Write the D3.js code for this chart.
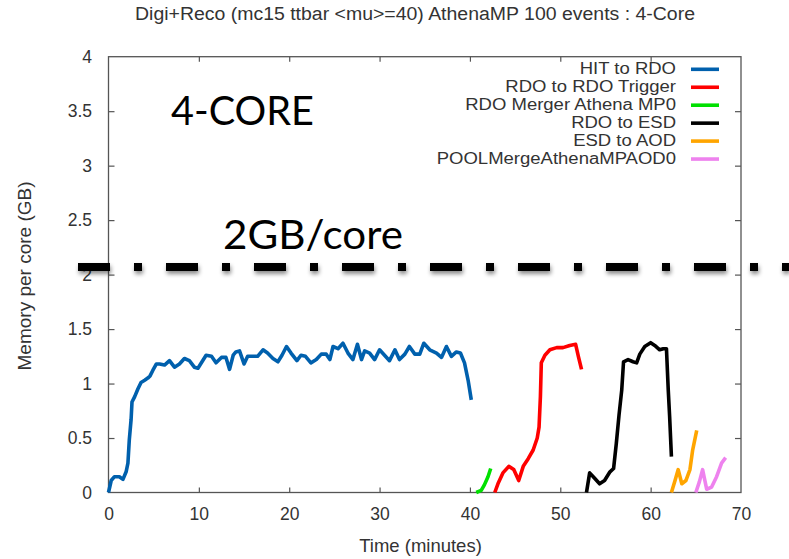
<!DOCTYPE html>
<html><head><meta charset="utf-8">
<script src="https://cdn.jsdelivr.net/npm/d3@7"></script>
<style>body{margin:0;background:#fff}svg{display:block}</style>
</head><body><svg id="c" width="789" height="559"></svg>
<script>
const chartTitle = "Digi+Reco (mc15 ttbar <mu>=40) AthenaMP 100 events : 4-Core";
const xLabel = "Time (minutes)";
const yLabel = "Memory per core (GB)";
const xTicks = [0,10,20,30,40,50,60,70];
const yTicks = [0,0.5,1,1.5,2,2.5,3,3.5,4];
const seriesNames = ["HIT to RDO","RDO to RDO Trigger","RDO Merger Athena MP0","RDO to ESD","ESD to AOD","POOLMergeAthenaMPAOD0"];
const seriesColors = ["#0060ad","#ff0000","#00e000","#000000","#ffa500","#ee82ee"];
const limitValue = 2.07;
const limitLabel = "2GB/core";
const coreLabel = "4-CORE";

const hitTime = [0,0.3,0.66,1.2,1.6,1.95,2.15,2.3,2.5,2.6,2.9,3.25,3.6,4.0,4.35,4.6,4.9,5.3,5.65,6.2,6.75,7.3,7.85,8.4,8.95,9.5,9.9,10.8,11.4,11.9,12.5,13.0,13.4,13.8,14.1,14.5,15.0,15.4,16.0,16.5,17.1,17.6,18.2,18.75,19.2,19.7,20.2,20.85,21.3,21.8,22.4,23.0,23.55,24.1,24.5,24.85,25.4,25.95,26.5,27.05,27.55,28.0,28.35,28.9,29.45,30.0,30.55,31.1,31.7,32.2,32.8,33.3,33.9,34.45,34.9,35.55,36.3,36.85,37.4,37.95,38.5,38.95,39.4,39.8,40.15];
const hitMem = [0,0.11,0.145,0.145,0.12,0.19,0.27,0.48,0.67,0.83,0.88,0.95,1.01,1.03,1.05,1.07,1.12,1.18,1.18,1.17,1.21,1.15,1.18,1.23,1.21,1.15,1.14,1.26,1.25,1.19,1.24,1.24,1.13,1.26,1.29,1.30,1.18,1.25,1.25,1.25,1.31,1.28,1.23,1.20,1.26,1.34,1.28,1.21,1.26,1.25,1.19,1.22,1.27,1.27,1.22,1.34,1.32,1.37,1.28,1.22,1.36,1.22,1.30,1.28,1.22,1.31,1.26,1.21,1.31,1.22,1.27,1.34,1.27,1.27,1.37,1.31,1.28,1.24,1.34,1.25,1.29,1.28,1.19,1.03,0.85];
const trigTime = [42.75,43.1,43.65,44.3,44.85,45.4,45.9,46.45,47.0,47.45,47.65,47.8,47.9,48.3,48.85,49.6,50.3,51.05,51.7,52.0,52.35];
const trigMem = [0,0.08,0.18,0.24,0.21,0.11,0.24,0.31,0.39,0.50,0.60,0.88,1.19,1.26,1.31,1.33,1.33,1.35,1.36,1.25,1.13];
const mergeTime = [40.7,41.25,41.6,42.0,42.3];
const mergeMem = [0,0.02,0.07,0.145,0.22];
const esdTime = [52.9,53.25,53.8,54.35,54.9,55.5,55.9,56.2,56.5,56.8,57.0,57.5,58.05,58.45,58.8,59.35,60.0,60.45,61.0,61.4,61.75,61.95,62.1,62.3];
const esdMem = [0,0.18,0.13,0.08,0.11,0.19,0.22,0.45,0.71,0.94,1.20,1.22,1.20,1.19,1.27,1.34,1.375,1.35,1.31,1.32,1.32,0.94,0.70,0.33];
const aodTime = [62.3,62.7,63.05,63.45,63.9,64.35,64.65,65.1];
const aodMem = [0,0.11,0.21,0.08,0.11,0.21,0.39,0.57];
const poolTime = [65.0,65.4,65.75,66.2,66.75,67.3,67.85,68.3];
const poolMem = [0,0.10,0.21,0.03,0.05,0.145,0.27,0.32];

const seriesTimes = [hitTime,trigTime,mergeTime,esdTime,aodTime,poolTime];
const seriesMems = [hitMem,trigMem,mergeMem,esdMem,aodMem,poolMem];

(function(){
const svg = d3.select("#c");
const L = 108.5, R = 741, T = 56.7, B = 492.5;
const x = d3.scaleLinear().domain([0,70]).range([L,R]);
const y = d3.scaleLinear().domain([0,4]).range([B,T]);
const frameCol = "#555", textCol = "#333";
const gFont = "'Liberation Sans', Arial, sans-serif";
const ly0 = y(limitValue);

const defs = svg.append("defs");
const f = defs.append("filter").attr("id","sh").attr("filterUnits","userSpaceOnUse")
  .attr("x",0).attr("y",ly0-25).attr("width",789).attr("height",50);
f.append("feDropShadow").attr("dx",1).attr("dy",3).attr("stdDeviation",2).attr("flood-color","#000").attr("flood-opacity",0.45);

const ax = svg.append("g").attr("font-family", gFont);
const gBottom = ax.append("g").attr("transform",`translate(0,${B})`)
  .call(d3.axisBottom(x).tickValues(xTicks).tickFormat(d3.format("d")).tickSizeInner(-5).tickSizeOuter(0).tickPadding(15));
const gLeft = ax.append("g").attr("transform",`translate(${L},0)`)
  .call(d3.axisLeft(y).tickValues(yTicks).tickFormat(d => String(d)).tickSizeInner(-6).tickSizeOuter(0).tickPadding(16.5));
const gTop = ax.append("g").attr("transform",`translate(0,${T})`)
  .call(d3.axisTop(x).tickValues(xTicks.slice(1,-1)).tickFormat("").tickSizeInner(-5).tickSizeOuter(0));
const gRight = ax.append("g").attr("transform",`translate(${R},0)`)
  .call(d3.axisRight(y).tickValues(yTicks.slice(1,-1)).tickFormat("").tickSizeInner(-6).tickSizeOuter(0));
[gBottom,gLeft,gTop,gRight].forEach(g => {
  g.select(".domain").remove();
  g.selectAll("line").attr("stroke",frameCol).attr("stroke-width",1.2);
  g.selectAll("text").attr("fill",textCol).attr("font-size","17.5px").attr("font-family",gFont);
});
gLeft.selectAll(".tick line").filter(d => d===0 || d===4).remove();
gBottom.selectAll(".tick line").filter(d => d===0 || d===70).remove();
svg.append("rect").attr("x",L).attr("y",T).attr("width",R-L).attr("height",B-T)
  .attr("fill","none").attr("stroke",frameCol).attr("stroke-width",1.3);

svg.append("text").attr("x",415).attr("y",20).attr("text-anchor","middle")
  .attr("font-family",gFont).attr("font-size","18px").attr("fill",textCol)
  .attr("textLength",560).attr("lengthAdjust","spacingAndGlyphs").text(chartTitle);
svg.append("text").attr("x",420.5).attr("y",552).attr("text-anchor","middle")
  .attr("font-family",gFont).attr("font-size","18.5px").attr("fill",textCol).text(xLabel);
svg.append("text").attr("transform","translate(30.5,276) rotate(-90)").attr("text-anchor","middle")
  .attr("font-family",gFont).attr("font-size","19px").attr("fill",textCol).text(yLabel);

const line = d3.line().x(d => x(d[0])).y(d => y(d[1]));
seriesNames.forEach((name,i) => {
  const pts = seriesTimes[i].map((t,j) => [t, seriesMems[i][j]]);
  svg.append("path").datum(pts).attr("d",line).attr("fill","none")
    .attr("stroke",seriesColors[i]).attr("stroke-width",3.6)
    .attr("stroke-linejoin","round").attr("stroke-linecap","butt");
});

const lg = svg.append("g").attr("font-family",gFont);
seriesNames.forEach((name,i) => {
  const ly = 69.3 + i*17.95;
  const t = lg.append("text").attr("x",676).attr("y",ly+5).attr("text-anchor","end")
    .attr("font-size","18.5px").attr("fill",textCol).text(name);
  const w = t.node().getComputedTextLength();
  t.attr("font-size","16px").attr("textLength",w).attr("lengthAdjust","spacingAndGlyphs");
  lg.append("line").attr("x1",691).attr("x2",719).attr("y1",ly).attr("y2",ly)
    .attr("stroke",seriesColors[i]).attr("stroke-width",3.6);
});

svg.append("line").attr("x1",78).attr("x2",789).attr("y1",ly0).attr("y2",ly0)
  .attr("stroke","#000").attr("stroke-width",8).attr("stroke-dasharray","32,24,8,24")
  .attr("filter","url(#sh)");
svg.append("text").attr("x",223).attr("y",249).attr("font-family","Lato, 'Open Sans', sans-serif")
  .attr("font-size","40px").attr("fill","#000")
  .attr("textLength",180).attr("lengthAdjust","spacingAndGlyphs").text(limitLabel);
svg.append("text").attr("x",171).attr("y",125).attr("font-family","Lato, 'Open Sans', sans-serif")
  .attr("font-size","40px").attr("fill","#000")
  .attr("textLength",143).attr("lengthAdjust","spacingAndGlyphs").text(coreLabel);
})();
</script></body></html>
